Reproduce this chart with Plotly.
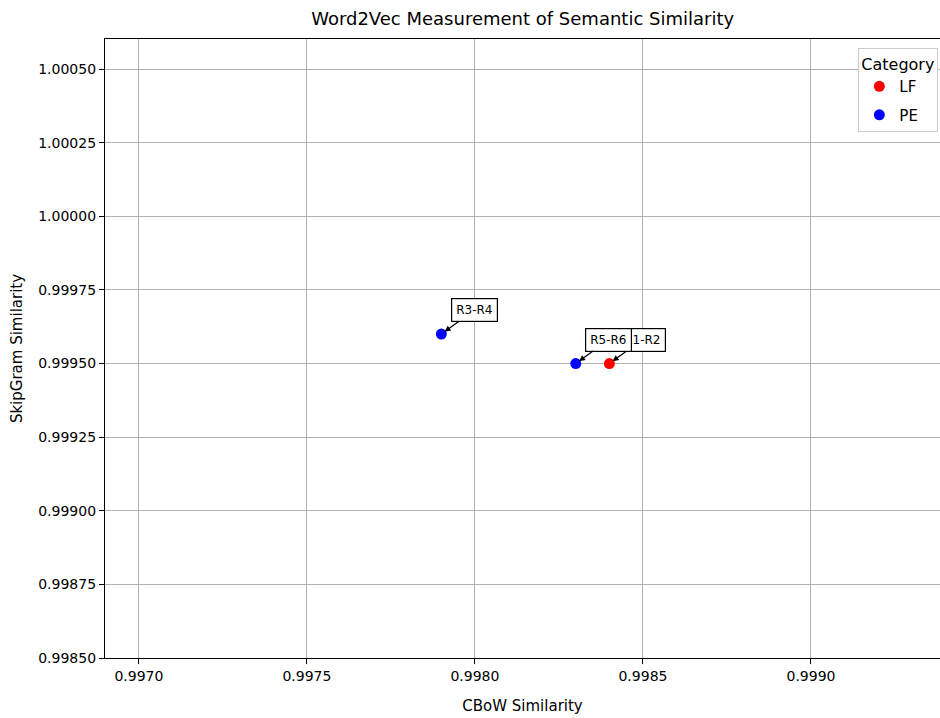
import plotly.graph_objects as go

labels = ["R1-R2", "R3-R4", "R5-R6"]
categories = ["LF", "PE", "PE"]
cbow = [0.9984, 0.9979, 0.9983]
skipgram = [0.9995, 0.9996, 0.9995]
colors = {"LF": "red", "PE": "blue"}

x_ticks = [0.9970, 0.9975, 0.9980, 0.9985, 0.9990]
y_ticks = [0.99850, 0.99875, 0.99900, 0.99925, 0.99950, 0.99975, 1.00000, 1.00025, 1.00050]

fig = go.Figure()
for cat in ["LF", "PE"]:
    xs = [x for x, c in zip(cbow, categories) if c == cat]
    ys = [y for y, c in zip(skipgram, categories) if c == cat]
    fig.add_trace(go.Scatter(x=xs, y=ys, mode="markers", name=cat, legendgroup=cat,
                             marker=dict(color=colors[cat], size=11)))

for lab, x, y in zip(labels, cbow, skipgram):
    fig.add_annotation(x=x, y=y, text=lab, showarrow=True, ax=33, ay=-24,
                       arrowhead=2, arrowsize=1, arrowwidth=1.2, arrowcolor="black",
                       standoff=4, font=dict(family="DejaVu Sans", size=12, color="black"),
                       bgcolor="white", bordercolor="black", borderwidth=1.2, borderpad=4)

axis_common = dict(showline=True, linecolor="black", linewidth=1.2, mirror=True,
                   ticks="outside", ticklen=5, tickcolor="black", automargin=False,
                   showgrid=True, gridcolor="#b0b0b0", gridwidth=1, zeroline=False,
                   tickfont=dict(family="DejaVu Sans", size=14, color="black"))

fig.update_layout(
    width=940, height=718,
    paper_bgcolor="white", plot_bgcolor="white",
    margin=dict(l=105, r=0, t=39, b=60, autoexpand=False),
    title=dict(text="Word2Vec Measurement of Semantic Similarity", x=0.556, xanchor="center",
               y=0.974, yanchor="middle",
               font=dict(family="DejaVu Sans", size=18, color="black")),
    xaxis=dict(range=[0.996899, 0.999384], tickvals=x_ticks, tickformat=".4f",
               title=dict(text="CBoW Similarity", font=dict(family="DejaVu Sans", size=15, color="black"),
                          standoff=17),
               **axis_common),
    yaxis=dict(range=[0.9985, 1.000602], tickvals=y_ticks, tickformat=".5f",
               title=dict(text="SkipGram Similarity", font=dict(family="DejaVu Sans", size=15, color="black"),
                          standoff=11),
               **axis_common),
    legend=dict(title=dict(text="Category", font=dict(family="DejaVu Sans", size=16, color="black")),
                x=0.998, y=0.985, xanchor="right", yanchor="top", tracegroupgap=6,
                bgcolor="white", bordercolor="#cccccc", borderwidth=1,
                font=dict(family="DejaVu Sans", size=15, color="black")),
    showlegend=True,
)

fig.write_html("out.html", config={"displayModeBar": False},
               post_script="document.body.style.margin='0';document.body.style.overflow='hidden';")
